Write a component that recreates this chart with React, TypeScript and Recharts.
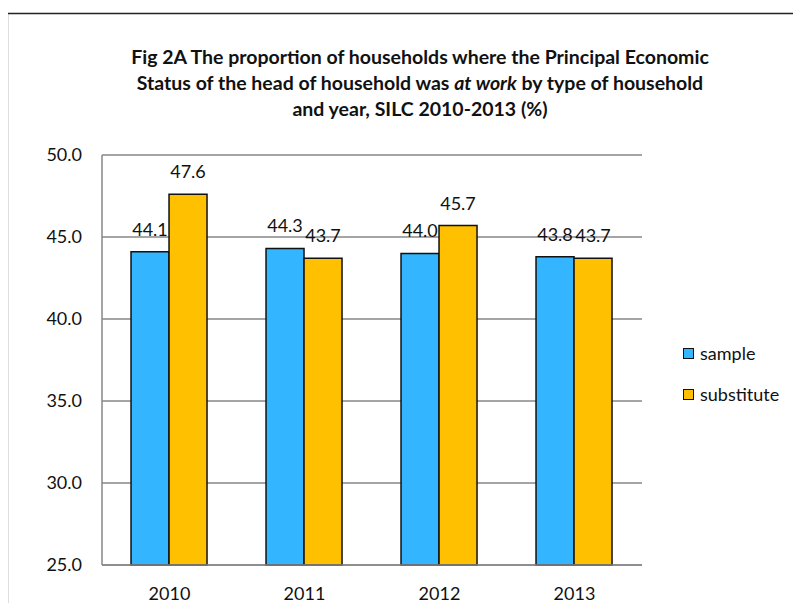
import React from "react";
import {
  Bar,
  BarChart,
  CartesianGrid,
  LabelList,
  XAxis,
  YAxis,
} from "recharts";

const years = ["2010", "2011", "2012", "2013"];
const sampleValues = [44.1, 44.3, 44.0, 43.8];
const substituteValues = [47.6, 43.7, 45.7, 43.7];
const yTicks = [25, 30, 35, 40, 45, 50];

const titleLines = [
  "Fig 2A The proportion of households where the Principal Economic",
  "Status of the head of household was |at work| by type of household",
  "and year, SILC 2010-2013 (%)",
];

const FONT = "Lato, 'Open Sans', sans-serif";
const BLUE = "#33b5ff";
const GOLD = "#ffc000";
const GRID = "#878787";

const series = [
  { key: "sample", name: "sample", color: BLUE },
  { key: "substitute", name: "substitute", color: GOLD },
];

const data = years.map((year, i) => ({
  year,
  sample: sampleValues[i],
  substitute: substituteValues[i],
}));

// "|...|" marks the italic bit of a title line
const renderLine = (line: string) =>
  line.split("|").map((part, i) =>
    i % 2 === 1 ? <i key={i}>{part}</i> : <span key={i}>{part}</span>
  );

const App: React.FC = () => {
  return (
    <div
      style={{
        position: "relative",
        width: 801,
        height: 611,
        margin: -8,
        overflow: "hidden",
        background: "#fff",
        fontFamily: FONT,
      }}
    >
      <div
        style={{
          position: "absolute",
          left: 0,
          top: 44,
          width: 840,
          textAlign: "center",
          fontWeight: 700,
          fontSize: 19.5,
          lineHeight: "26px",
          color: "#111",
        }}
      >
        {titleLines.map((line, i) => (
          <div key={i}>{renderLine(line)}</div>
        ))}
      </div>
      <div style={{ position: "absolute", left: 0, top: 0 }}>
        <BarChart
          width={801}
          height={611}
          data={data}
          margin={{ top: 155, right: 159, left: 0, bottom: 16 }}
          barGap={0}
          barCategoryGap="21.5%"
        >
          <CartesianGrid vertical={false} stroke={GRID} strokeWidth={1.5} />
          <XAxis
            dataKey="year"
            axisLine={{ stroke: GRID, strokeWidth: 1.5 }}
            tickLine={false}
            tickMargin={16}
            tick={{ fill: "#111", fontSize: 18, fontFamily: FONT }}
          />
          <YAxis
            width={102}
            domain={[25, 50]}
            ticks={yTicks}
            tickFormatter={(v: number) => v.toFixed(1)}
            axisLine={{ stroke: GRID, strokeWidth: 1.5 }}
            tickLine={false}
            tickMargin={14}
            tick={{ fill: "#111", fontSize: 18, fontFamily: FONT }}
          />
          {series.map((s) => (
            <Bar
              key={s.key}
              dataKey={s.key}
              name={s.name}
              fill={s.color}
              stroke="#111"
              strokeWidth={1.5}
              isAnimationActive={false}
            >
              <LabelList
                dataKey={s.key}
                position="top"
                offset={16}
                formatter={(v: any) => Number(v).toFixed(1)}
                style={{ fill: "#111", fontSize: 18, fontFamily: FONT }}
              />
            </Bar>
          ))}
        </BarChart>
      </div>
      <div style={{ position: "absolute", left: 683, top: 341 }}>
        {series.map((s) => (
          <div
            key={s.key}
            style={{ display: "flex", alignItems: "center", height: 24, marginBottom: 17 }}
          >
            <span
              style={{
                display: "inline-block",
                width: 9,
                height: 9,
                background: s.color,
                border: "1.5px solid #111",
                marginRight: 6,
              }}
            />
            <span style={{ fontSize: 18, color: "#111" }}>{s.name}</span>
          </div>
        ))}
      </div>
      <svg
        width={801}
        height={611}
        style={{ position: "absolute", left: 0, top: 0, pointerEvents: "none" }}
      >
        <path d="M7.5,611 V13.5 H801" fill="none" stroke="#222" strokeWidth={1.3} />
      </svg>
    </div>
  );
};

export default App;
